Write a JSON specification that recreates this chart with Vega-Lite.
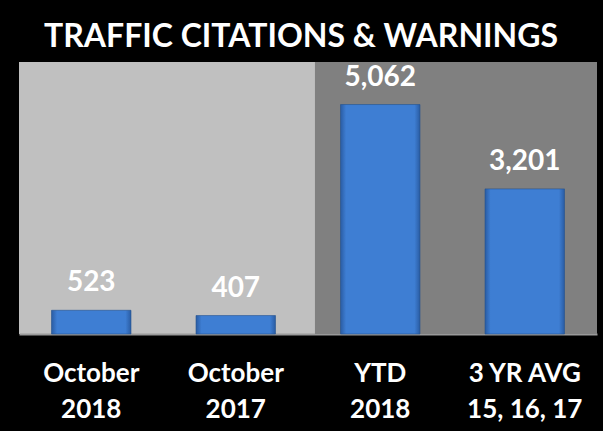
{
  "$schema": "https://vega.github.io/schema/vega-lite/v6.json",
  "autosize": {"type": "none"},
  "width": 578,
  "height": 272,
  "padding": {"left": 19, "top": 62, "right": 6, "bottom": 97},
  "background": "#000000",
  "title": {
    "text": "TRAFFIC CITATIONS & WARNINGS",
    "color": "#ffffff",
    "font": "Lato",
    "fontWeight": "bold",
    "fontSize": 32,
    "anchor": "middle",
    "baseline": "alphabetic",
    "offset": 15,
    "dx": -7,
    "dy": 32
  },
  "data": {
    "values": [
      {"label": "October|2018", "value": 523, "period": "Month"},
      {"label": "October|2017", "value": 407, "period": "Month"},
      {"label": "YTD|2018", "value": 5062, "period": "Year"},
      {"label": "3 YR AVG|15, 16, 17", "value": 3201, "period": "Year"}
    ]
  },
  "encoding": {
    "x": {
      "field": "label",
      "type": "nominal",
      "sort": ["October|2018", "October|2017", "YTD|2018", "3 YR AVG|15, 16, 17"],
      "scale": {"paddingInner": 0.45, "paddingOuter": 0.225},
      "axis": {
        "title": null,
        "labelExpr": "split(datum.label, '|')",
        "labelAngle": 0,
        "labelColor": "#ffffff",
        "labelFont": "Lato",
        "labelFontWeight": "bold",
        "labelFontSize": 26,
        "labelLineHeight": 36,
        "labelBaseline": "alphabetic",
        "labelPadding": 47,
        "labelOverlap": false,
        "ticks": false,
        "tickSize": 0,
        "domainColor": "#9a9a9a",
        "domainWidth": 2,
        "grid": false
      }
    }
  },
  "layer": [
    {
      "transform": [{"filter": "datum.period === 'Year'"}],
      "mark": {"type": "bar", "color": "#808080", "opacity": 1, "width": {"band": 1.87}, "xOffset": 9, "clip": true},
      "encoding": {
        "y": {"datum": 6000, "type": "quantitative", "scale": {"domain": [0, 6000], "nice": false}, "axis": null}
      }
    },
    {
      "mark": {
        "type": "bar",
        "opacity": 1,
        "stroke": "#24528f",
        "strokeWidth": 0.6,
        "fill": {
          "x1": 0, "y1": 0, "x2": 1, "y2": 0,
          "gradient": "linear",
          "stops": [
            {"offset": 0, "color": "#2a5ca3"},
            {"offset": 0.07, "color": "#3e7ed3"},
            {"offset": 0.93, "color": "#3e7ed3"},
            {"offset": 1, "color": "#2a5ca3"}
          ]
        }
      },
      "encoding": {
        "y": {"field": "value", "type": "quantitative", "scale": {"domain": [0, 6000], "nice": false}, "axis": null}
      }
    },
    {
      "mark": {
        "type": "text",
        "color": "#ffffff",
        "font": "Lato",
        "fontWeight": "bold",
        "fontSize": 28,
        "baseline": "alphabetic",
        "dy": -19
      },
      "encoding": {
        "y": {"field": "value", "type": "quantitative", "scale": {"domain": [0, 6000], "nice": false}, "axis": null},
        "text": {"field": "value", "type": "quantitative", "format": ","}
      }
    }
  ],
  "config": {
    "view": {"fill": "#c0c0c0", "stroke": null}
  }
}
